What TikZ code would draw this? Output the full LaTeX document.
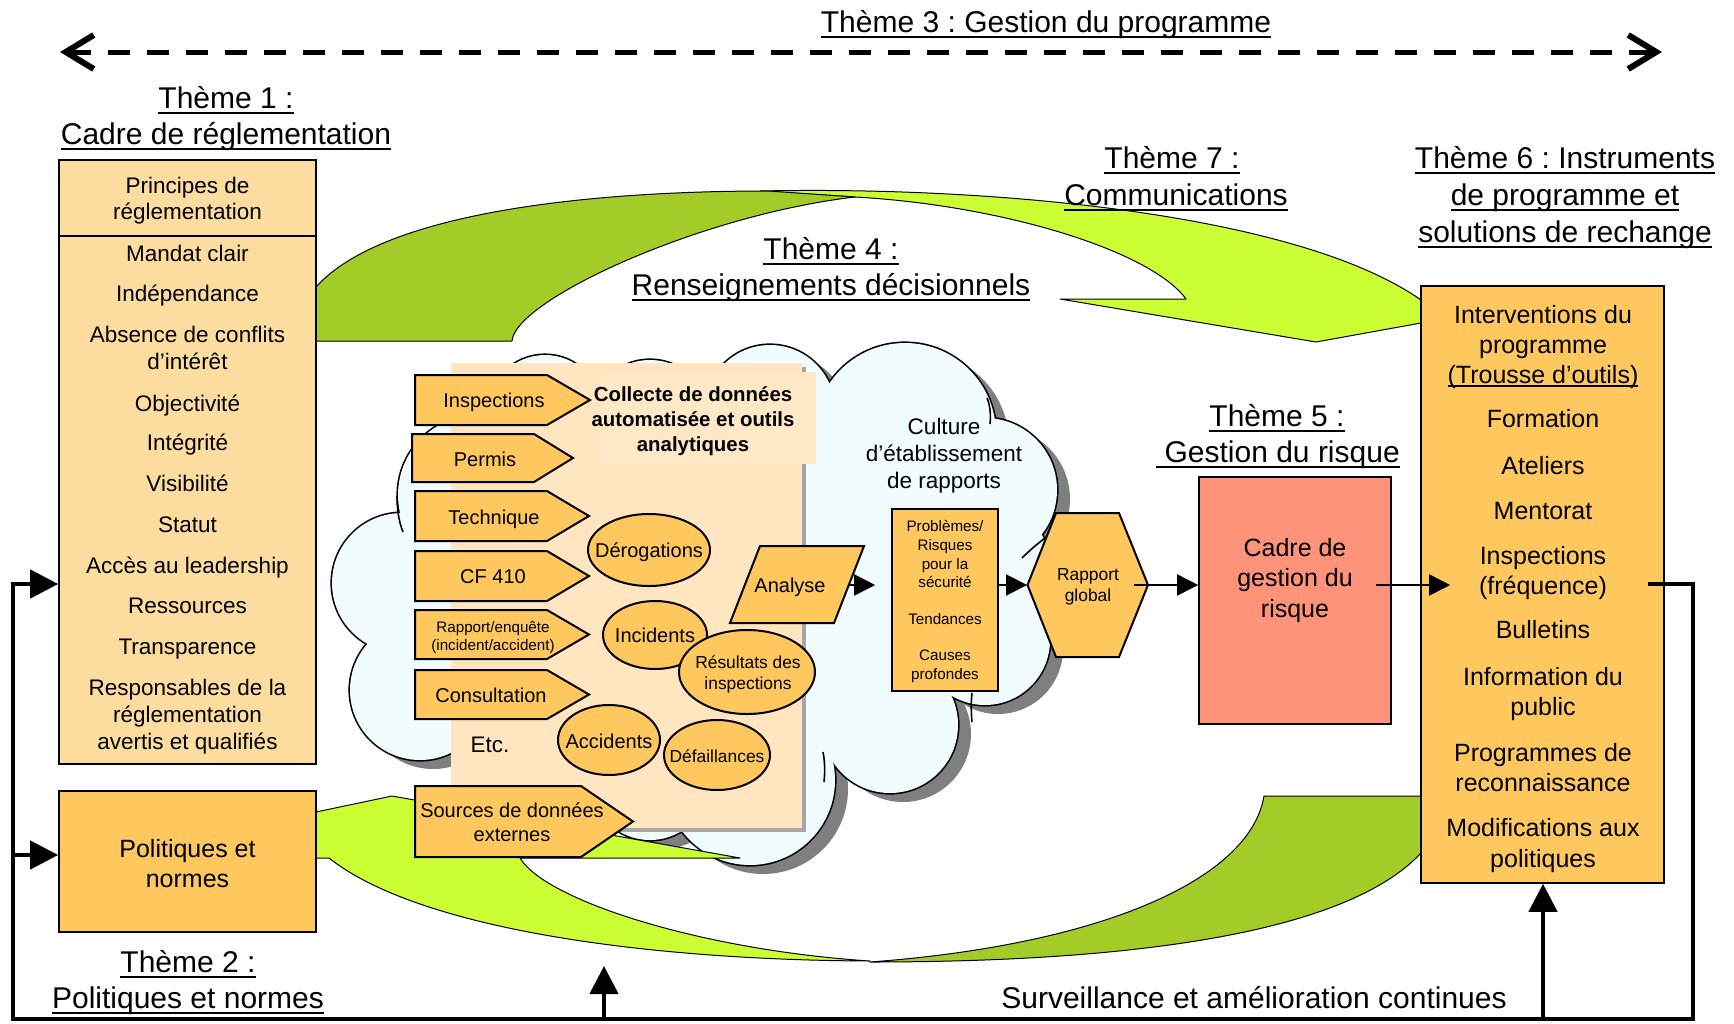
\documentclass[tikz,border=0pt]{standalone}
\usepackage{fontspec}
\setmainfont{Liberation Sans}
\frenchspacing
\usetikzlibrary{arrows.meta,shapes.geometric}
\definecolor{lor}{HTML}{FDDD9F}
\definecolor{mor}{HTML}{FFC85F}
\definecolor{redb}{HTML}{FF937A}
\definecolor{cld}{HTML}{F0FCFF}
\definecolor{peach}{HTML}{FFE6C0}
\definecolor{peachb}{HTML}{FFE8C6}
\definecolor{gdark}{HTML}{A3CC29}
\definecolor{glight}{HTML}{CCFF33}
\definecolor{shad}{HTML}{7F7F7F}
\newcommand\ulx[1]{\sbox0{#1}\rlap{\rule[-0.18em]{\wd0}{0.09em}}\usebox0}
\newcommand\ult[1]{\sbox0{#1}\rlap{\rule[-0.14em]{\wd0}{0.06em}}\usebox0}
\newcommand\penta[5]{\draw[pent] (#1,#2) -- (#3,#2) -- (#4,{(#2+#5)/2}) -- (#3,#5) -- (#1,#5) -- cycle;}
\begin{document}
\begin{tikzpicture}[x=0.5pt,y=-0.5pt,
 every node/.style={inner sep=0pt},
 t15/.style={font=\fontsize{15}{18}\selectfont, text height=10.8pt, text depth=0pt},
 t125/.style={font=\fontsize{12.5}{15}\selectfont, text height=9pt, text depth=0pt},
 t1125/.style={font=\fontsize{11.25}{13.5}\selectfont, text height=8.1pt, text depth=0pt},
 t10/.style={font=\fontsize{10}{12}\selectfont, text height=7.2pt, text depth=0pt},
 tb10/.style={font=\fontsize{10.2}{12}\selectfont\bfseries, text height=7.35pt, text depth=0pt},
 t87/.style={font=\fontsize{8.7}{10}\selectfont, text height=6.25pt, text depth=0pt},
 t76/.style={font=\fontsize{7.6}{9}\selectfont, text height=5.5pt, text depth=0pt},
 pent/.style={draw, fill=mor, line width=1pt, line join=miter},
 bx/.style={draw, line width=0.8pt},
 ell/.style={draw, fill=mor, ellipse, line width=1pt},
 conn/.style={line width=0.8pt, -{Triangle[length=10.5pt,width=10.5pt]}},
 loopline/.style={line width=2.25pt},
 bigtip/.style={-{Triangle[length=14pt,width=14pt]}},
 gband/.style={draw, line width=0.5pt, line join=round},
 arcl/.style={line width=0.8pt},
]
\useasboundingbox (0,0) rectangle (1734,1023);
\fill[white] (0,0) rectangle (1734,1023);

% ---------- cloud ----------
\def\cloudlist{402/583/70, 420/690/70, 478/495/80, 545/412/57, 650/420/60, 770/410/65, 905/434/91, 985/490/72, 990/565/60, 985/640/65, 890/725/68, 750/780/85, 650/780/60, 535/770/60}
\foreach \cx/\cy/\r in \cloudlist {\fill[shad] (\cx+13,\cy+9) circle[radius=\r];}
\foreach \cx/\cy/\r in \cloudlist {\draw[line width=1.6pt] (\cx,\cy) circle[radius=\r];}
\foreach \cx/\cy/\r in \cloudlist {\fill[cld] (\cx,\cy) circle[radius=\r];}
\fill[cld] (402,583) -- (478,495) -- (545,412) -- (650,420) -- (770,410) -- (905,434) -- (985,490) -- (990,565) -- (985,640) -- (890,725) -- (750,780) -- (650,780) -- (535,770) -- (420,690) -- cycle;
% inner arcs of the cloud
\draw[arcl] (987,398) .. controls (990,405) and (991,414) .. (990,424);
\draw[arcl] (1022,558) .. controls (1032,548) and (1042,540) .. (1052,533);
\draw[arcl] (823,752) .. controls (825,762) and (825,772) .. (824,782);
\draw[arcl] (397,496) .. controls (397,510) and (399,522) .. (403,532);
\draw[arcl] (972,693) .. controls (971,702) and (971,712) .. (972,722);

% ---------- green bands ----------
\draw[gband, fill=glight] (760,191) .. controls (1000,186) and (1300,215) .. (1421,300) -- (1421,323) -- (1316,342) -- (1060,299) -- (1186,299) .. controls (1150,250) and (1000,205) .. (855,197) -- cycle;
\draw[gband, fill=gdark] (316,287) .. controls (385,210) and (600,191) .. (768,191) -- (855,197) .. controls (700,215) and (515,300) .. (512,341) -- (316,341) -- cycle;
\draw[gband, fill=glight] (316,812) -- (392,796) -- (740,858) -- (520,858) .. controls (545,900) and (700,950) .. (870,961) .. controls (650,960) and (420,930) .. (329,858) -- (316,858) -- cycle;
\draw[gband, fill=gdark] (1264,796) -- (1421,796) -- (1421,853) .. controls (1340,940) and (1100,962) .. (870,962) .. controls (1100,945) and (1250,880) .. (1264,796) -- cycle;

% ---------- collecte box ----------
\fill[gray!70] (455,367) rectangle (806,832);
\fill[peach] (451,363) rectangle (802,828);
\fill[peachb] (600,372) rectangle (816,464);
\node[tb10] (col1) at (693,394) {Collecte de données};
\node[tb10] (col2) at (693,419) {automatisée et outils};
\node[tb10] (col3) at (693,444) {analytiques};

% ---------- pentagons ----------
\penta{415}{375}{547}{590}{425}
\penta{412}{434}{534}{573}{482}
\penta{415}{491}{547}{589}{541}
\penta{415}{551}{547}{589}{601}
\penta{415}{610}{547}{589}{659}
\penta{415}{670}{547}{589}{719}
\node[t10] (insp) at (494,400) {Inspections};
\node[t10] (perm) at (485,459) {Permis};
\node[t10] (tech) at (494,517) {Technique};
\node[t10] (cf) at (493,576) {CF 410};
\node[t76] (rap1) at (493,627) {Rapport/enquête};
\node[t76] (rap2) at (493,645) {(incident/accident)};
\node[t10] (cons) at (491,695) {Consultation};
\node[t1125] (etc) at (490,744) {Etc.};

% ---------- ellipses ----------
\node[ell, minimum width=61pt, minimum height=36pt] (derog) at (649,550) {};
\node[ell, minimum width=52pt, minimum height=34pt] (incid) at (655,635) {};
\node[ell, minimum width=68pt, minimum height=42pt] (resul) at (747,672) {};
\node[ell, minimum width=51pt, minimum height=35pt] (accid) at (609,740) {};
\node[ell, minimum width=53pt, minimum height=35pt] (defai) at (717,755) {};
\node[t10] (derogt) at (649,550) {Dérogations};
\node[t10] (incidt) at (655,635) {Incidents};
\node[t87] (resul1) at (748,662) {Résultats des};
\node[t87] (resul2) at (748,683) {inspections};
\node[t10] (accidt) at (609,741) {Accidents};
\node[t87] (defait) at (717,756) {Défaillances};

% ---------- sources ----------
\penta{415}{786}{581}{633}{857}
\node[t10] (src1) at (512,810) {Sources de données};
\node[t10] (src2) at (512,834) {externes};

% ---------- analyse / problems / hexagon ----------
\draw[pent] (760,546) -- (864,546) -- (834,623) -- (730,623) -- cycle;
\node[minimum width=52pt, minimum height=38pt] (ana) at (797,585) {};
\node[t10] (anat) at (790,585) {Analyse};

\node[t1125] (cul1) at (944,426) {Culture};
\node[t1125] (cul2) at (944,453) {d’établissement};
\node[t1125] (cul3) at (944,480) {de rapports};

\node[bx, fill=mor, minimum width=53pt, minimum height=91pt] (prob) at (945,600) {};
\node[t76] (pr1) at (945,526) {Problèmes/};
\node[t76] (pr2) at (945,545) {Risques};
\node[t76] (pr3) at (945,564) {pour la};
\node[t76] (pr4) at (945,582) {sécurité};
\node[t76] (pr5) at (945,619) {Tendances};
\node[t76] (pr6) at (945,655) {Causes};
\node[t76] (pr7) at (945,674) {profondes};

\draw[pent] (1027.5,585) -- (1056,513) -- (1119,513) -- (1148,585) -- (1119,657) -- (1056,657) -- cycle;
\node[minimum width=60.25pt, minimum height=72pt] (hex) at (1087.75,585) {};
\node[t87] (hex1) at (1088,574) {Rapport};
\node[t87] (hex2) at (1088,595) {global};

% ---------- red box ----------
\node[bx, fill=redb, minimum width=96pt, minimum height=123.5pt] (red) at (1295,600.5) {};
\node[t125] (red1) at (1295,547) {Cadre de};
\node[t125] (red2) at (1295,577) {gestion du};
\node[t125] (red3) at (1295,608) {risque};

% ---------- left box ----------
\node[bx, fill=lor, minimum width=128.5pt, minimum height=302pt] (lbox) at (187.5,462) {};
\draw[line width=0.8pt] (59,236) -- (316,236);
\foreach \yy/\tt [count=\i] in {185/Principes de, 211/réglementation, 253/Mandat clair, 293/Indépendance, 334/Absence de conflits, 361/d’intérêt, 403/Objectivité, 442/Intégrité, 483/Visibilité, 524/Statut, 565/Accès au leadership, 605/Ressources, 646/Transparence, 687/Responsables de la, 714/réglementation, 741/avertis et qualifiés}
  {\node[t1125] (lt\i) at (187.5,\yy) {\tt};}

% ---------- politiques box ----------
\node[bx, fill=mor, minimum width=128.5pt, minimum height=70.5pt] (pbox) at (187.5,861.5) {};
\node[t125] (pb1) at (187.5,848) {Politiques et};
\node[t125] (pb2) at (187.5,878) {normes};

% ---------- right box ----------
\node[bx, fill=mor, minimum width=121.5pt, minimum height=298.5pt] (rbox) at (1542.5,584.5) {};
\foreach \yy/\tt [count=\i] in {314/Interventions du, 344/programme, 418/Formation, 465/Ateliers, 510/Mentorat, 555/Inspections, 585/(fréquence), 629/Bulletins, 676/Information du, 706/public, 752/Programmes de, 782/reconnaissance, 827/Modifications aux, 858/politiques}
  {\node[t125] (rt\i) at (1543,\yy) {\tt};}
\node[t125] (rtt) at (1543,374) {\ult{(Trousse d’outils)}};

% ---------- connectors ----------
\coordinate (pw) at (ana.east -| prob.west);
\draw[conn] (ana.east) -- ([xshift=-8pt]pw);
\coordinate (pe) at (ana.east -| prob.east);
\draw[conn] (pe) -- (hex.west);
\coordinate (rw) at (hex.east -| red.west);
\draw[conn] ([xshift=-7pt]hex.east) -- (rw);
\coordinate (re) at (hex.east -| red.east);
\coordinate (rbw) at (hex.east -| rbox.west);
\draw[conn] ([xshift=-8pt]re) -- ([xshift=15pt]rbw);

% ---------- feedback loop ----------
\coordinate (rs) at (1648,584);
\coordinate (c1) at (1693,584);
\coordinate (c2) at (1693,1019);
\coordinate (c3) at (13,1019);
\coordinate (c4) at (13,584);
\draw[loopline, bigtip] (rs) -- (c1) -- (c2) -- (c3) -- (c4) -- (c4 -| lbox.west);
\coordinate (c5) at (13,855);
\draw[loopline, bigtip] (c5) -- (c5 -| pbox.west);
\coordinate (c6) at (604,1019);
\coordinate (c7) at (604,966);
\draw[loopline, bigtip] (c6) -- (c7);
\coordinate (c8) at (1543,1019);
\draw[loopline, bigtip] (c8) -- (c8 |- rbox.south);

% ---------- theme 3 arrow ----------
\coordinate (dL) at (60,52);
\coordinate (dR) at (1662,52);
\draw[line width=2.5pt, dash pattern=on 11pt off 8.5pt, {Straight Barb[length=14pt,width=17pt,line width=3pt]}-{Straight Barb[length=14pt,width=17pt,line width=3pt]}] (dL) -- (dR);

% ---------- headers ----------
\node[t15] (h3) at (1046,22) {\ulx{Thème 3 : Gestion du programme}};
\node[t15] (h1a) at (226,98) {\ulx{Thème 1 :}};
\node[t15] (h1b) at (226,134) {\ulx{Cadre de réglementation}};
\node[t15] (h7a) at (1172,158) {\ulx{Thème 7 :}};
\node[t15] (h7b) at (1176,195) {\ulx{Communications}};
\node[t15] (h6a) at (1565,158) {\ulx{Thème 6 : Instruments}};
\node[t15] (h6b) at (1565,195) {\ulx{de programme et}};
\node[t15] (h6c) at (1565,232) {\ulx{solutions de rechange}};
\node[t15] (h4a) at (831,249) {\ulx{Thème 4 :}};
\node[t15] (h4b) at (831,285) {\ulx{Renseignements décisionnels}};
\node[t15] (h5a) at (1277,416) {\ulx{Thème 5 :}};
\node[t15] (h5b) at (1278,452) {\ulx{~Gestion du risque}};
\node[t15] (h2a) at (188,962) {\ulx{Thème 2 :}};
\node[t15] (h2b) at (188,998) {\ulx{Politiques et normes}};
\node[t15] (surv) at (1254,998) {Surveillance et amélioration continues};
\end{tikzpicture}
\end{document}
